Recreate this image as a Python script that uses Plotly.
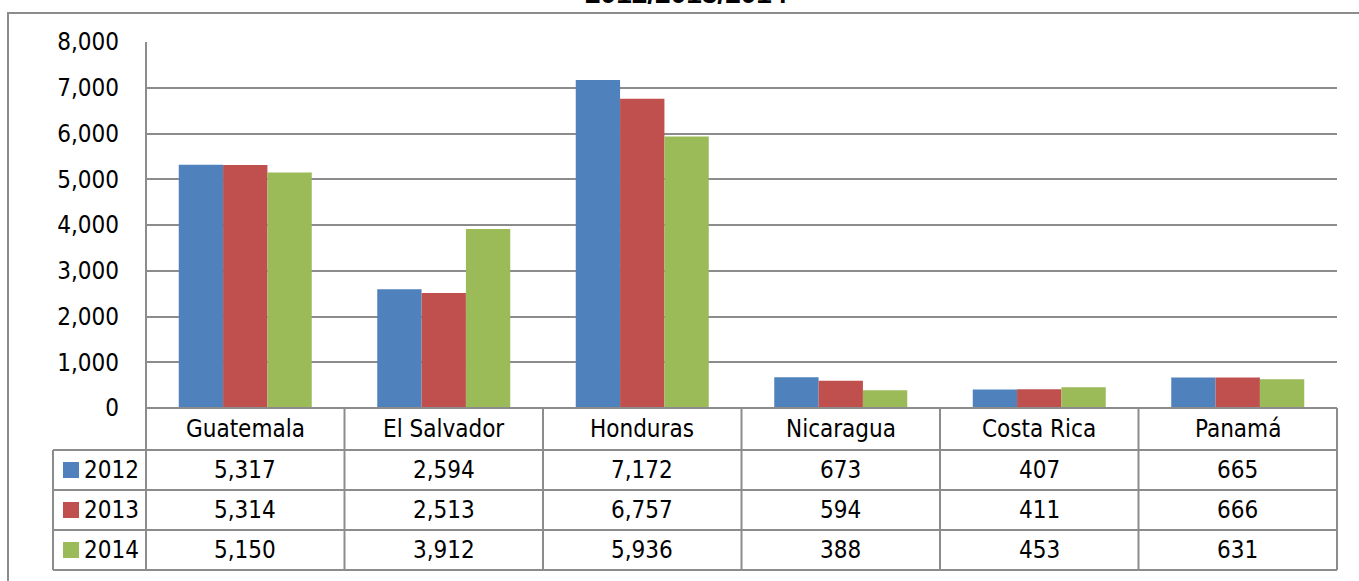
import plotly.graph_objects as go

countries = ["Guatemala", "El Salvador", "Honduras", "Nicaragua", "Costa Rica", "Panamá"]
years = ["2012", "2013", "2014"]
v2012 = [5317, 2594, 7172, 673, 407, 665]
v2013 = [5314, 2513, 6757, 594, 411, 666]
v2014 = [5150, 3912, 5936, 388, 453, 631]
series = [v2012, v2013, v2014]
colors = ["#4F81BD", "#C0504D", "#9BBB59"]
title_text = "2012/2013/2014"
ytick_vals = [0, 1000, 2000, 3000, 4000, 5000, 6000, 7000, 8000]

W, H = 1359, 581
L, R, T, B = 146, 1337, 42, 408
FONT = "Liberation Sans Narrow, Arial Narrow, DejaVu Sans Condensed, sans-serif"
LINE = "#8C8C8C"


def px(x):
    return (x - L) / (R - L)


def py(y):
    return (B - y) / (B - T)


fig = go.Figure()
for yr, vals, c in zip(years, series, colors):
    fig.add_trace(go.Bar(x=countries, y=vals, name=yr, marker=dict(color=c, line=dict(width=0)),
                         showlegend=False))

shapes = []
annotations = []

# table geometry (pixels)
header_top, row_h0 = 408, 450
row_bounds = [450, 490, 530, 570]
leg_left = 53
n = len(countries)

# horizontal lines
shapes.append(dict(type="line", xref="paper", yref="paper", x0=0, x1=1, y0=py(header_top), y1=py(header_top),
                   line=dict(color=LINE, width=2)))
for yb in row_bounds:
    shapes.append(dict(type="line", xref="paper", yref="paper", x0=px(leg_left), x1=1, y0=py(yb), y1=py(yb),
                       line=dict(color=LINE, width=2)))
# vertical lines
shapes.append(dict(type="line", xref="paper", yref="paper", x0=px(leg_left), x1=px(leg_left),
                   y0=py(row_bounds[0]), y1=py(row_bounds[-1]), line=dict(color=LINE, width=2)))
shapes.append(dict(type="line", xref="paper", yref="paper", x0=0, x1=0,
                   y0=1, y1=py(row_bounds[-1]), line=dict(color=LINE, width=2)))
for k in range(1, n + 1):
    shapes.append(dict(type="line", xref="paper", yref="paper", x0=k / n, x1=k / n,
                       y0=py(header_top), y1=py(row_bounds[-1]), line=dict(color=LINE, width=2)))

# outer border
shapes.append(dict(type="rect", xref="paper", yref="paper", x0=px(8), x1=px(1370), y0=py(13), y1=py(595),
                   line=dict(color=LINE, width=2), fillcolor="rgba(0,0,0,0)", layer="below"))

# header text
for i, c in enumerate(countries):
    annotations.append(dict(xref="x", yref="paper", x=c, y=py((header_top + row_h0) / 2), text=c,
                            showarrow=False, font=dict(family=FONT, size=24, color="#000"),
                            xanchor="center", yanchor="middle"))

# rows
for r, (yr, vals, col) in enumerate(zip(years, series, colors)):
    yc = (row_bounds[r] + row_bounds[r + 1]) / 2
    for c, v in zip(countries, vals):
        annotations.append(dict(xref="x", yref="paper", x=c, y=py(yc), text=f"{v:,}",
                                showarrow=False, font=dict(family=FONT, size=24, color="#000"),
                                xanchor="center", yanchor="middle"))
    shapes.append(dict(type="rect", xref="paper", yref="paper", x0=px(63), x1=px(79),
                       y0=py(yc - 8), y1=py(yc + 8), fillcolor=col, line=dict(width=0)))
    annotations.append(dict(xref="paper", yref="paper", x=px(141), y=py(yc), text=yr,
                            showarrow=False, font=dict(family=FONT, size=24, color="#000"),
                            xanchor="right", yanchor="middle"))

# title (partly cut at top, as in the reference)
annotations.append(dict(xref="paper", yref="paper", x=px(686), y=py(11), text=f"<b>{title_text}</b>",
                        showarrow=False, font=dict(family="Liberation Sans, Arial, sans-serif", size=28, color="#000"),
                        xanchor="center", yanchor="bottom"))

fig.update_layout(
    width=W, height=H,
    margin=dict(l=L, r=W - R, t=T, b=H - B, pad=0),
    paper_bgcolor="white", plot_bgcolor="white",
    barmode="group", bargap=0.33, bargroupgap=0,
    shapes=shapes, annotations=annotations,
    xaxis=dict(showticklabels=False, showgrid=False, zeroline=False, showline=False, ticks=""),
    yaxis=dict(range=[0, 8000], tickvals=ytick_vals, tickformat=",d", showgrid=True, gridcolor=LINE,
               gridwidth=2, zeroline=False, showline=False, ticks="",
               ticklabelstandoff=26,
               tickfont=dict(family=FONT, size=24, color="#000")),
    font=dict(family=FONT),
)

fig.write_html("out.html", config={"displayModeBar": False},
               post_script="document.body.style.margin='0';document.body.style.overflow='hidden';")
